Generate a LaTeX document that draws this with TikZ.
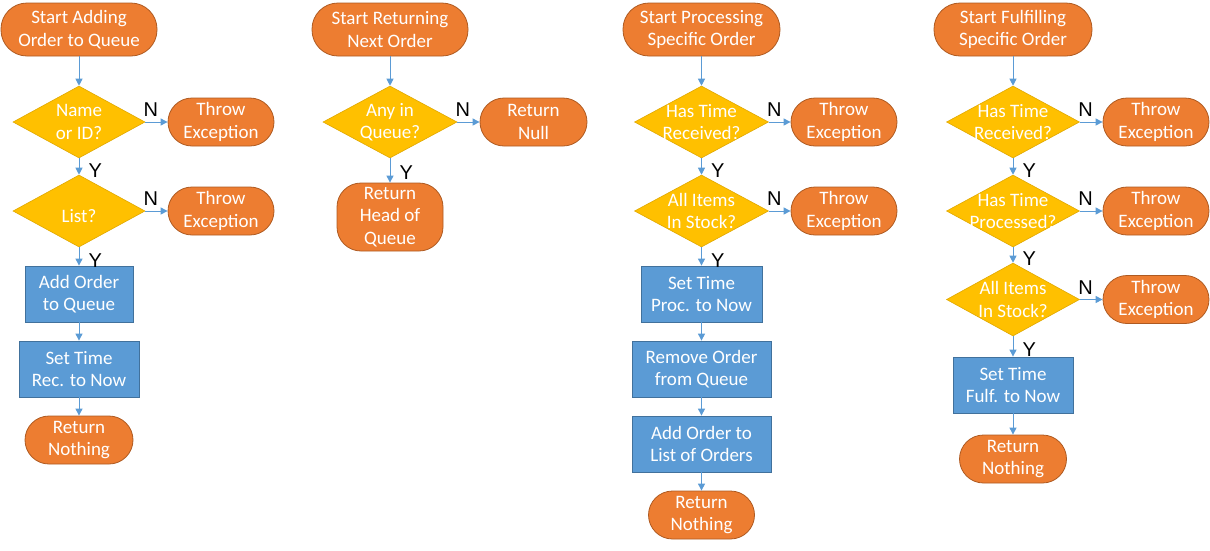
\documentclass[tikz,border=0pt]{standalone}
\usepackage{fontspec}
\setmainfont{Carlito}
\newfontfamily\labfont{Liberation Sans}
\usetikzlibrary{shapes.geometric,arrows.meta}
\definecolor{orf}{HTML}{ED7D31}
\definecolor{ord}{HTML}{AE5A21}
\definecolor{blf}{HTML}{5B9BD5}
\definecolor{bld}{HTML}{41719C}
\definecolor{yef}{HTML}{FFC000}
\definecolor{yed}{HTML}{E0A800}
\definecolor{arrc}{HTML}{5B9BD5}
\begin{document}
\begin{tikzpicture}[x=1pt,y=-1pt,
  every node/.style={font=\fontsize{19}{22.5}\selectfont, text=white, align=center, inner sep=0pt,
    execute at begin node={\rule{0pt}{23pt}}},
  term/.style={draw=ord, fill=orf, line width=0.8pt, rounded corners=24pt, minimum height=48pt},
  bigterm/.style={term, minimum height=53pt, rounded corners=26pt},
  proc/.style={draw=bld, fill=blf, line width=0.8pt, minimum height=56pt},
  dia/.style={diamond, draw=yed, fill=yef, line width=0.6pt, minimum width=133pt, minimum height=72pt},
  arr/.style={draw=arrc, line width=1pt, -{Triangle[length=7pt,width=7pt]}},
  lab/.style={font=\labfont\fontsize{20}{20}\selectfont, text=black,
    execute at begin node={}},
  nlab/.style={lab, pos=0.25, above=5pt},
  ylab/.style={lab, pos=0.45, right=9pt}]
\useasboundingbox (0,0) rectangle (1210,550);

% Column 1
\node[bigterm, minimum width=156pt] (a0) at (79,29.5) {Start Adding\\Order to Queue};
\node[dia, minimum width=132pt, label=center:{Name\\or ID?}] (a1) at (79,122) {};
\node[term, minimum width=106pt] (a1n) at (221,122) {Throw\\Exception};
\node[dia, minimum width=132pt, label=center:{List?}] (a2) at (79,211) {};
\node[term, minimum width=106pt] (a2n) at (221,211) {Throw\\Exception};
\node[proc, minimum width=108pt] (a3) at (79,294) {Add Order\\to Queue};
\node[proc, minimum width=120pt] (a4) at (79,369) {Set Time\\Rec. to Now};
\node[term, minimum width=108pt] (a5) at (79,440) {Return\\Nothing};
\draw[arr] (a0) -- (a1);
\draw[arr] (a1.east) -- node[nlab] {N} (a1n.west);
\draw[arr] (a1.south) -- node[ylab] {Y} (a2.north);
\draw[arr] (a2.east) -- node[nlab] {N} (a2n.west);
\draw[arr] (a2.south) -- node[ylab] {Y} (a3.north);
\draw[arr] (a3) -- (a4);
\draw[arr] (a4) -- (a5);

% Column 2
\node[bigterm, minimum width=156pt] (b0) at (390,29.5) {Start Returning\\Next Order};
\node[dia, minimum width=134pt, label=center:{Any in\\Queue?}] (b1) at (390,122) {};
\node[term, minimum width=107pt] (b1n) at (533.5,122) {Return\\Null};
\node[term, minimum width=106pt, minimum height=68pt, rounded corners=24pt] (b2) at (390,217) {Return\\Head of\\Queue};
\draw[arr] (b0) -- (b1);
\draw[arr] (b1.east) -- node[nlab] {N} (b1n.west);
\draw[arr] (b1.south) -- node[ylab, pos=0.4] {Y} (b2.north);

% Column 3
\node[bigterm, minimum width=157pt] (c0) at (701.5,29.5) {Start Processing\\Specific Order};
\node[dia, minimum width=134pt, label=center:{Has Time\\Received?}] (c1) at (701.5,122) {};
\node[term, minimum width=106pt] (c1n) at (844,122) {Throw\\Exception};
\node[dia, minimum width=134pt, label=center:{All Items\\In Stock?}] (c2) at (701.5,211) {};
\node[term, minimum width=106pt] (c2n) at (844,211) {Throw\\Exception};
\node[proc, minimum width=121pt] (c3) at (701.5,294) {Set Time\\Proc. to Now};
\node[proc, minimum width=139pt] (c4) at (701.5,369) {Remove Order\\from Queue};
\node[proc, minimum width=139pt] (c5) at (701.5,444) {Add Order to\\List of Orders};
\node[term, minimum width=106pt] (c6) at (701.5,515) {Return\\Nothing};
\draw[arr] (c0) -- (c1);
\draw[arr] (c1.east) -- node[nlab] {N} (c1n.west);
\draw[arr] (c1.south) -- node[ylab] {Y} (c2.north);
\draw[arr] (c2.east) -- node[nlab] {N} (c2n.west);
\draw[arr] (c2.south) -- node[ylab] {Y} (c3.north);
\draw[arr] (c3) -- (c4);
\draw[arr] (c4) -- (c5);
\draw[arr] (c5) -- (c6);

% Column 4
\node[bigterm, minimum width=158pt] (d0) at (1013,29.5) {Start Fulfilling\\Specific Order};
\node[dia, minimum width=133pt, label=center:{Has Time\\Received?}] (d1) at (1013,122) {};
\node[term, minimum width=106pt] (d1n) at (1156,122) {Throw\\Exception};
\node[dia, minimum width=133pt, label=center:{Has Time\\Processed?}] (d2) at (1013,211) {};
\node[term, minimum width=106pt] (d2n) at (1156,211) {Throw\\Exception};
\node[dia, minimum width=133pt, minimum height=73pt, label=center:{All Items\\In Stock?}] (d3) at (1013,299.5) {};
\node[term, minimum width=106pt] (d3n) at (1156,299.5) {Throw\\Exception};
\node[proc, minimum width=120pt] (d4) at (1013,385) {Set Time\\Fulf. to Now};
\node[term, minimum width=107pt] (d5) at (1013,459) {Return\\Nothing};
\draw[arr] (d0) -- (d1);
\draw[arr] (d1.east) -- node[nlab] {N} (d1n.west);
\draw[arr] (d1.south) -- node[ylab] {Y} (d2.north);
\draw[arr] (d2.east) -- node[nlab] {N} (d2n.west);
\draw[arr] (d2.south) -- node[ylab] {Y} (d3.north);
\draw[arr] (d3.east) -- node[nlab] {N} (d3n.west);
\draw[arr] (d3.south) -- node[ylab] {Y} (d4.north);
\draw[arr] (d4) -- (d5);
\end{tikzpicture}
\end{document}
